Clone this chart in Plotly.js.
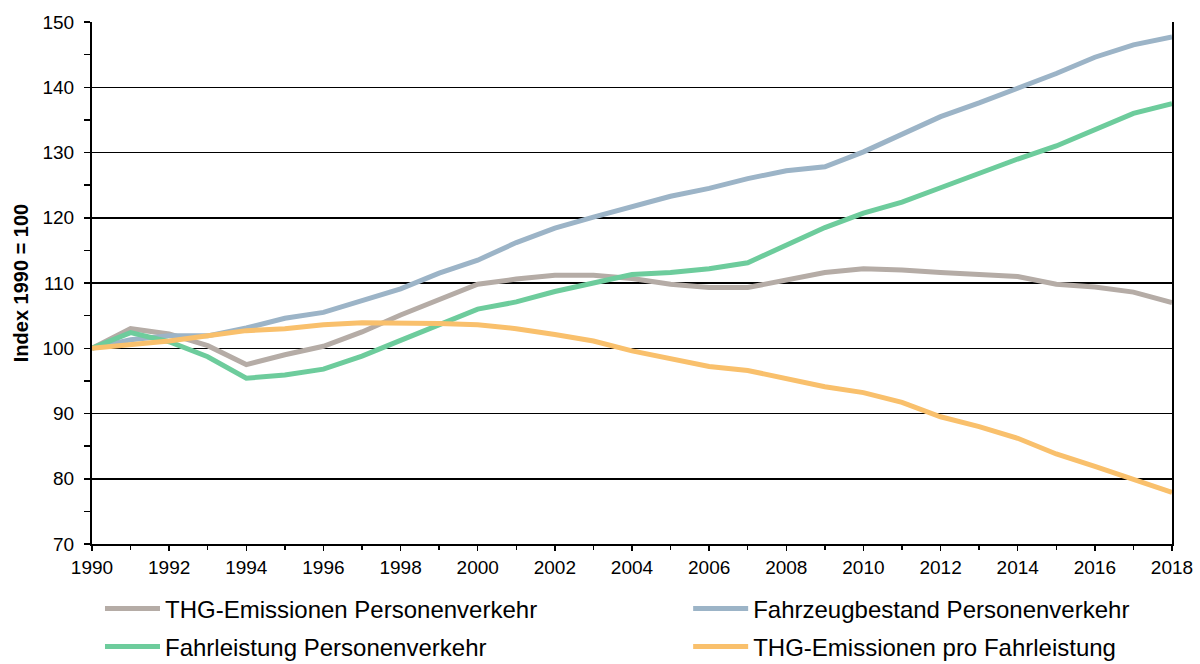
<!DOCTYPE html>
<html>
<head>
<meta charset="utf-8">
<script src="https://cdn.plot.ly/plotly-3.0.1.min.js"></script>
<style>html,body{margin:0;padding:0;background:#fff;}#chart{width:1200px;height:664px;}</style>
</head>
<body>
<div id="chart"></div>
<script>
const years = [1990,1991,1992,1993,1994,1995,1996,1997,1998,1999,2000,2001,2002,2003,2004,2005,2006,2007,2008,2009,2010,2011,2012,2013,2014,2015,2016,2017,2018];

const thgEmissionen = [100,103.0,102.2,100.4,97.5,99.0,100.3,102.5,105.1,107.5,109.8,110.6,111.2,111.2,110.7,109.8,109.3,109.3,110.5,111.6,112.2,112.0,111.6,111.3,111.0,109.8,109.4,108.6,107.0];
const fahrzeugbestand = [100,101.3,101.9,101.9,103.1,104.6,105.5,107.3,109.1,111.5,113.5,116.2,118.4,120.1,121.8,123.3,124.5,126.0,127.2,127.8,130.1,132.7,135.5,137.6,139.8,142.1,144.6,146.5,147.7];
const fahrleistung = [100,102.4,101.0,98.7,95.4,95.9,96.8,98.8,101.2,103.6,106.0,107.1,108.7,110.0,111.3,111.6,112.2,113.1,115.7,118.5,120.7,122.4,124.6,126.9,129.0,131.0,133.5,136.0,137.5];
const thgProFahrleistung = [100,100.6,101.1,101.9,102.7,103.0,103.6,103.9,103.9,103.8,103.6,103.0,102.1,101.1,99.6,98.4,97.2,96.6,95.4,94.1,93.2,91.7,89.5,88.0,86.2,83.8,81.9,80.0,77.9];

const seriesNames = ["THG-Emissionen Personenverkehr","Fahrzeugbestand Personenverkehr","Fahrleistung Personenverkehr","THG-Emissionen pro Fahrleistung"];
const seriesColors = ["#b5aca6","#9cb4c7","#6dcc9c","#f9c06c"];
const seriesData = [thgEmissionen, fahrzeugbestand, fahrleistung, thgProFahrleistung];
const seriesLegend = ["legend","legend2","legend","legend2"];

const traces = seriesData.map((d,i)=>({
  type:"scatter", mode:"lines", x:years, y:d, name:seriesNames[i],
  line:{color:seriesColors[i], width:5},
  legend:seriesLegend[i], legendgroup:"g"+i
}));

const legendStyle = {
  orientation:"v", xanchor:"left", yanchor:"top", yref:"container",
  font:{family:"Liberation Sans, Arial, sans-serif", size:24, color:"#000"},
  bgcolor:"rgba(0,0,0,0)", tracegroupgap:4, itemwidth:55
};

const layout = {
  width:1200, height:664,
  margin:{l:92, r:28, t:22, b:120, autoexpand:false},
  paper_bgcolor:"#fff", plot_bgcolor:"#fff",
  font:{family:"Liberation Sans, Arial, sans-serif", size:19, color:"#000"},
  showlegend:true,
  legend:Object.assign({x:0.0074, y:0.117}, legendStyle),
  legend2:Object.assign({x:0.552, y:0.117}, legendStyle),
  xaxis:{
    range:[1990,2018], tickmode:"linear", tick0:1990, dtick:2,
    showgrid:false, zeroline:false,
    showline:true, linecolor:"#000", linewidth:2,
    ticks:"outside", ticklen:5, tickcolor:"#000", tickwidth:1.5,
    minor:{dtick:1, ticks:"outside", ticklen:4, tickcolor:"#000", tickwidth:1.5, showgrid:false},
    tickfont:{size:19, color:"#000"}
  },
  yaxis:{
    range:[70,150], tickmode:"linear", tick0:70, dtick:10,
    showgrid:true, gridcolor:"#000", gridwidth:1.5, zeroline:false,
    showline:true, linecolor:"#000", linewidth:2, mirror:true,
    ticks:"outside", ticklen:6, tickcolor:"#000", tickwidth:1.5,
    minor:{dtick:5, ticks:"outside", ticklen:6, tickcolor:"#000", tickwidth:1.5, showgrid:false},
    tickfont:{size:19, color:"#000"}, ticklabelstandoff:6,
    title:{text:"<b>Index 1990 = 100</b>", font:{size:20, color:"#000"}, standoff:8}
  }
};

Plotly.newPlot("chart", traces, layout, {displayModeBar:false, staticPlot:true});
</script>
</body>
</html>
